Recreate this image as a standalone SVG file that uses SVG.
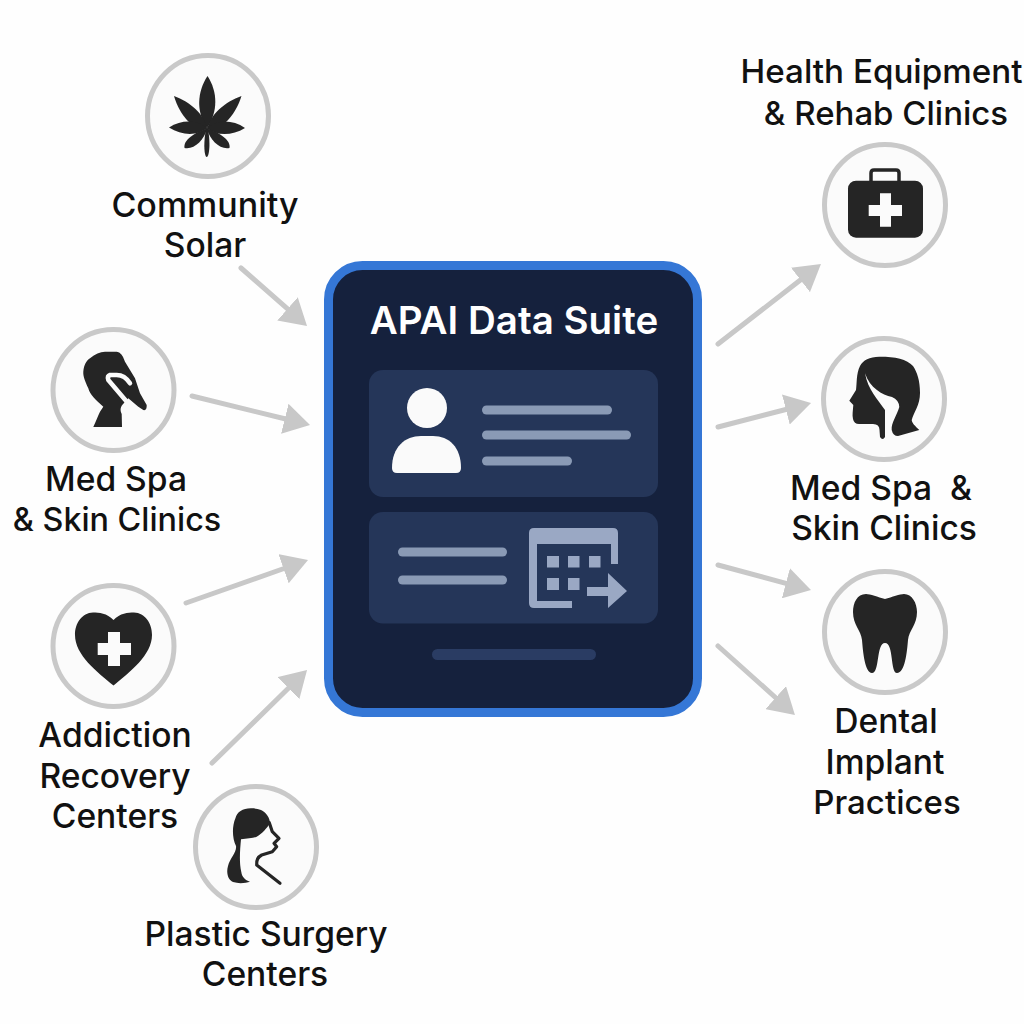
<svg xmlns="http://www.w3.org/2000/svg" width="1024" height="1024" viewBox="0 0 1024 1024">
<defs>
<style>
.ring{fill:#fbfbfb;stroke:#c9c9c9;stroke-width:5}
.ic{fill:#252525}
.lb{font-family:Inter,"Liberation Sans",sans-serif;font-size:33.600px;font-weight:500;fill:#111;text-anchor:middle}
.con{stroke:#c8c8c8;stroke-width:5;stroke-linecap:round;fill:none;marker-end:url(#ah)}
.card{fill:#253659}
.ln{fill:#8a9ab5}
.cal{fill:#9aa8c4}
</style>
<marker id="ah" viewBox="0 0 26 31" markerUnits="userSpaceOnUse" markerWidth="26" markerHeight="31" refX="2" refY="15.500" orient="auto"><polygon points="0,0 26,15.500 0,31" fill="#c8c8c8"/></marker>
</defs>
<rect width="1024" height="1024" fill="#fefefe"/>
<g id="connectors">
<line class="con" x1="241" y1="268" x2="289" y2="310.2"/>
<line class="con" x1="192" y1="396" x2="286.7" y2="419.3"/>
<line class="con" x1="186" y1="603" x2="285.4" y2="568"/>
<line class="con" x1="212" y1="763" x2="289.9" y2="686.8"/>
<line class="con" x1="718" y1="344" x2="802" y2="278.7"/>
<line class="con" x1="718" y1="427" x2="787.8" y2="409"/>
<line class="con" x1="718" y1="565" x2="787.8" y2="583.8"/>
<line class="con" x1="718" y1="646" x2="777.1" y2="699"/>
</g>
<g id="suite">
<rect x="328.5" y="265.5" width="369" height="447" rx="34" fill="#15213d" stroke="#3577d6" stroke-width="9"/>
<text x="514" y="334" font-family="Inter,'Liberation Sans',sans-serif" font-size="38.500" font-weight="600" fill="#fff" text-anchor="middle">APAI Data Suite</text>
<rect class="card" x="369" y="370" width="289" height="127" rx="14"/>
<circle cx="427" cy="408" r="20" fill="#fafafa"/>
<path d="M392 468 C392 447 405 436 421 436 L433 436 C449 436 461 447 461 468 Q461 473 456 473 L397 473 Q392 473 392 468Z" fill="#fafafa"/>
<rect class="ln" x="482" y="405.500" width="130" height="9" rx="4.500"/>
<rect class="ln" x="482" y="430.500" width="149" height="9" rx="4.500"/>
<rect class="ln" x="482" y="456.500" width="90" height="9" rx="4.500"/>
<rect class="card" x="369" y="512" width="289" height="111.500" rx="14"/>
<rect class="ln" x="398" y="547.500" width="109" height="9" rx="4.500"/>
<rect class="ln" x="398" y="575.500" width="109" height="9" rx="4.500"/>
<path class="cal" d="M534 528 L613 528 Q618 528 618 533 L618 564 L611 564 L611 544 L537 544 L537 601 L572 601 L572 608 L534 608 Q529 608 529 603 L529 533 Q529 528 534 528Z"/>
<rect class="cal" x="547" y="556" width="12" height="11.500"/>
<rect class="cal" x="568" y="556" width="11.500" height="11.500"/>
<rect class="cal" x="589" y="556" width="11.500" height="11.500"/>
<rect class="cal" x="547" y="578" width="12" height="12"/>
<rect class="cal" x="568" y="578" width="11.500" height="12"/>
<path class="cal" d="M587 587 L608 587 L608 573 L627 591 L608 608 L608 596 L587 596Z"/>
<rect x="432" y="649" width="164" height="11" rx="5.500" fill="#2a3c63"/>
</g>
<g id="community-solar">
<circle class="ring" cx="208" cy="116" r="60.500"/>
<path class="ic" d="M207.500 76 C197 92 196 112 207 128 C218 112 218 92 207.500 76Z"/>
<path class="ic" d="M174 96 C190 102 205 114 207 130 C192 129 180 116 174 96Z"/>
<path class="ic" d="M241.500 96 C225 102 210 114 207 130 C223 129 235 116 241.500 96Z"/>
<path class="ic" d="M169 127.500 C182 119 198 120 207 128 C198 136 182 136 169 127.500Z"/>
<path class="ic" d="M245 128 C232 119 216 120 207 128 C216 136 232 136 245 128Z"/>
<path class="ic" d="M184.500 148 C183 140 195 132 207 129 C204 140 194 150 184.500 148Z"/>
<path class="ic" d="M229.500 148 C231 140 219 132 207 129 C210 140 220 150 229.500 148Z"/>
<path class="ic" d="M207 125 C203 140 204 157 206.700 157 C209.500 157 211 140 207 125Z"/>
</g>
<g id="med-spa-left">
<circle class="ring" cx="113.500" cy="390" r="60.500"/>
<path class="ic" d="M93.300 427 C96 421 98 416 100 411.700 L103.300 406.700 C96 400 90 395 88.300 388.300 C85 381 83 376 83.300 371.700 C84 365 86 361 90 358.300 C95 354 100 352 105 351.700 L116.700 351.700 Q122 352 125 361.700 L135 378.300 L140 393.300 L146.700 405 Q147 411 143.300 410 L138.300 406.700 L128.300 398.300 L124 403 C120 407 120 410 121.700 414 L122 427Z"/>
<path d="M130 383.300 C126 377 121 375 116.700 375 L110 375 Q107 376 108.300 380 L127 402" fill="none" stroke="#fbfbfb" stroke-width="4.500" stroke-linecap="round" stroke-linejoin="round"/>
</g>
<g id="addiction-recovery">
<circle class="ring" cx="113.500" cy="646" r="60.500"/>
<path class="ic" d="M113.500 620 C107 613 99 612.500 93 612.500 C82 613 75 623 75 635 C75 655 97 672 113.500 685.500 C130 672 152 655 152 635 C152 623 145 613 134 612.500 C128 612.500 120 613 113.500 620Z"/>
<path fill="#fbfbfb" d="M108 632 H120 V643 H131 V655 H120 V666 H108 V655 H97.700 V643 H108Z"/>
</g>
<g id="plastic-surgery">
<circle class="ring" cx="256" cy="847" r="60.500"/>
<path class="ic" d="M251.700 808.300 C243 808 237 812 235.500 818 C232 826 232 838 236 846 C237 852 230 858 228 866 C226 873 228 880 233 882 C239 884 246 883 250 881.700 C245 880 242 877 241.300 872 C239 862 240 850 241 839.300 C247 838 253 838 256.700 836.700 C262 834 267 828 270 823.300 C270 818 266 812 261 810 C258 809 255 808.300 251.700 808.300Z"/>
<path d="M269.300 822.700 L272.300 831.700 L279 838.300 L274 843.300 L276.700 846.700 L272.300 851.700 L261.700 855 Q256 858 256.700 865 L280 883.300" fill="none" stroke="#252525" stroke-width="3.200" stroke-linecap="round" stroke-linejoin="round"/>
</g>
<g id="health-equipment">
<circle class="ring" cx="885" cy="205" r="60.500"/>
<path d="M871 182 V173 Q871 170 874 170 H896 Q899 170 899 173 V182" fill="none" stroke="#252525" stroke-width="3.500"/>
<rect class="ic" x="848" y="180.700" width="75" height="57" rx="8"/>
<path fill="#fbfbfb" d="M880 193.300 H891 V205 H902 V216 H891 V226.700 H880 V216 H868.700 V205 H880Z"/>
</g>
<g id="med-spa-right">
<circle class="ring" cx="884" cy="399" r="60.500"/>
<path class="ic" d="M880 356.700 C870 356.500 863 360 860 366 C856 374 857 384 856 390 L849.300 400.700 L853.300 405 C853 410 852 415 853 419 Q854 424 859 424 L873 424 Q879.500 424 879.500 430 L880 437 Q882.700 441 885 437 L885 410 C878 400 868 390 865 373.300 C870 388 882 395 892 397 Q899 400 899.300 407 C897 415 891 423 891.700 430 Q893 436 898 436 L919.300 430 C915 426 912 423 911.700 420 C914 412 920 405 920 393 C920 380 917 372 913 366 C907 359 895 356.700 880 356.700Z"/>
</g>
<g id="dental-implant">
<circle class="ring" cx="885" cy="632" r="60.500"/>
<path class="ic" d="M885 599 C878 597 870 594 866 594 C857 594 853 603 853 612 C853 625 861 630 862 640 C863 652 865 673 872 673 C880 673 876 643 885 643 C894 643 890 673 897 673 C905 673 907 652 908 640 C909 630 917 625 917 612 C917 603 912 594 904 594 C900 594 892 597 885 599Z"/>
</g>
<g id="labels">
<text class="lb" x="205" y="217" style="font-size:34px">Community</text>
<text class="lb" x="205" y="257">Solar</text>
<text class="lb" x="116" y="491">Med Spa</text>
<text class="lb" x="117" y="531" style="font-size:32.300px">&amp; Skin Clinics</text>
<text class="lb" x="115" y="747">Addiction</text>
<text class="lb" x="115" y="788">Recovery</text>
<text class="lb" x="115" y="828">Centers</text>
<text class="lb" x="266" y="946">Plastic Surgery</text>
<text class="lb" x="265" y="986">Centers</text>
<text class="lb" x="881.500" y="83" style="font-size:33.200px">Health Equipment</text>
<text class="lb" x="886" y="125" style="font-size:33px">&amp; Rehab Clinics</text>
<text class="lb" x="881" y="500" xml:space="preserve">Med Spa  &amp;</text>
<text class="lb" x="884" y="540">Skin Clinics</text>
<text class="lb" x="886" y="733">Dental</text>
<text class="lb" x="885" y="774">Implant</text>
<text class="lb" x="887" y="814" style="font-size:33px">Practices</text>
</g>
</svg>
